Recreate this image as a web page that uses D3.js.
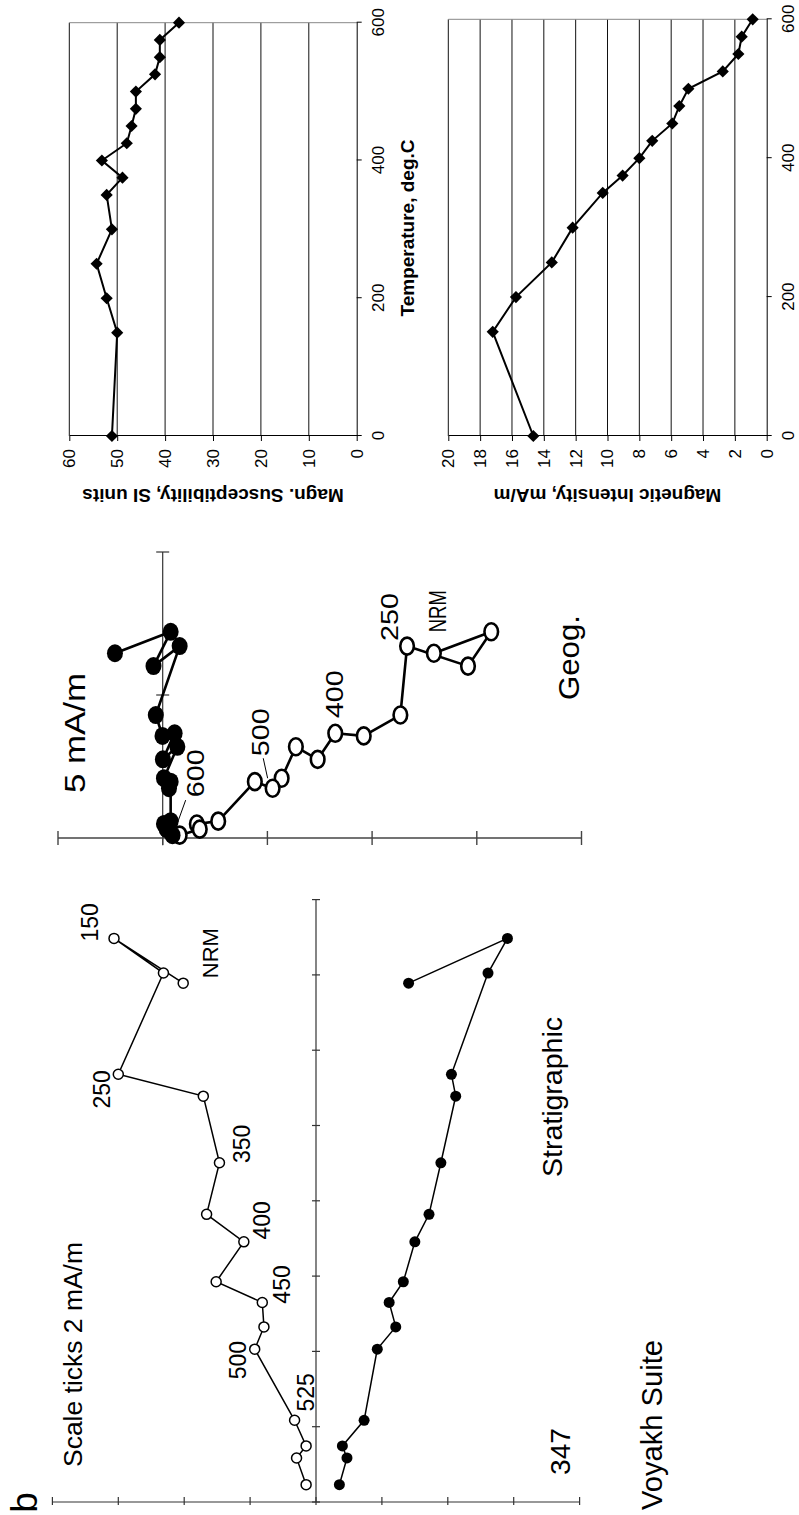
<!DOCTYPE html>
<html><head><meta charset="utf-8">
<script src="https://cdn.jsdelivr.net/npm/d3@7"></script>
<style>body{margin:0;background:#fff}svg{display:block}</style>
</head><body>
<svg id="c" width="799" height="1515"></svg>
<script>
// ---------------- DATA ----------------
const steps = ["NRM",150,200,250,300,350,375,400,425,450,475,500,525,550,575,600];
// Stratigraphic Zijderveld (mA/m)
const stratH    = [13.78,14.97,14.05,11.36,10.78,9.01,7.64,6.91,5.85,5.30,4.65,4.06,2.17,1.49,1.17,0.46];
const stratVert = [4.03,6.13,4.63,6.00,3.42,2.93,3.32,2.19,3.03,1.63,1.58,1.86,0.65,0.30,0.59,0.30];       // open
const stratHorz = [-2.81,-5.81,-5.22,-4.11,-4.24,-3.79,-3.43,-3.00,-2.65,-2.22,-2.42,-1.86,-1.46,-0.80,-0.94,-0.71]; // filled
// Geographic Zijderveld (mA/m)
const geogH    = [6.46,7.21,6.01,6.71,4.30,3.57,3.66,2.75,3.19,2.09,1.74,1.97,0.59,0.49,0.31,0.10];
const geogVert = [-12.95,-15.69,-14.58,-11.67,-11.35,-9.60,-8.24,-7.40,-6.36,-5.68,-5.25,-4.40,-2.65,-1.63,-1.77,-0.81]; // open
const geogHorz = [2.28,-0.38,0.44,-0.81,0.33,0.01,-0.57,-0.01,-0.70,-0.06,-0.30,-0.38,-0.38,-0.06,-0.19,-0.47];        // filled
// Thermal curves
const temps      = [0,150,200,250,300,350,375,400,425,450,475,500,525,550,575,600];
const suscept    = [51.1,50.0,52.2,54.3,51.1,52.2,48.9,53.2,48.0,47.0,46.1,46.1,42.1,41.1,41.1,37.1];
const intensity  = [14.66,17.21,15.75,13.5,12.19,10.30,9.05,8.00,7.19,5.93,5.49,4.92,2.76,1.78,1.57,0.88];
const tempTicks  = [0,200,400,600];
const susTicks   = [0,10,20,30,40,50,60];
const intTicks   = [0,2,4,6,8,10,12,14,16,18,20];
const stratTicksH = [0,2,4,6,8,10,12,14,16];
const stratTicksV = [-8,-6,-4,-2,0,2,4,6,8];
const geogTicksH = [5,10];
const geogTicksV = [-20,-15,-10,-5,0,5];

// ---------------- SETUP ----------------
const FONT = "'Liberation Sans', Arial, Helvetica, sans-serif";
const svg = d3.select("#c");
svg.append("rect").attr("width",799).attr("height",1515).attr("fill","#fff");
// whole figure is drawn in landscape and turned 90° counter-clockwise
const g = svg.append("g").attr("transform","translate(0,1515) rotate(-90)").attr("font-family",FONT);

function txt(parent, s, x, y, size, len, weight){
  const t = parent.append("text").attr("x", len ? x - len/2 : x).attr("y", y)
    .attr("font-size", size).attr("fill","#000").text(s);
  if (len) t.attr("textLength", len).attr("lengthAdjust","spacingAndGlyphs");
  else t.attr("text-anchor","middle");
  if (weight) t.attr("font-weight", weight);
  return t;
}
function seg(parent, x1,y1,x2,y2, w, c){
  parent.append("line").attr("x1",x1).attr("y1",y1).attr("x2",x2).attr("y2",y2)
    .attr("stroke", c||"#333").attr("stroke-width", w||1.2);
}

// ---------------- STRATIGRAPHIC PANEL ----------------
const sp = g.append("g");
const sx = d3.scaleLinear().domain([0,16]).range([13,615.4]);
const sy = d3.scaleLinear().domain([-8,8]).range([579.6,52.4]);
seg(sp, sx(0), sy(0), sx(16), sy(0));
stratTicksH.forEach(v => seg(sp, sx(v), sy(0)-4, sx(v), sy(0)+4));
seg(sp, sx(0), sy(8), sx(0), sy(-8));
stratTicksV.forEach(v => seg(sp, sx(0)-3, sy(v), sx(0)+5, sy(v)));
const sData = steps.map((t,i)=>({t, h:stratH[i], v:stratVert[i], w:stratHorz[i]}));
sp.append("path").datum(sData).attr("fill","none").attr("stroke","#000").attr("stroke-width",1.5)
  .attr("d", d3.line().x(d=>sx(d.h)).y(d=>sy(d.v)));
sp.append("path").datum(sData).attr("fill","none").attr("stroke","#000").attr("stroke-width",1.5)
  .attr("d", d3.line().x(d=>sx(d.h)).y(d=>sy(d.w)));
sp.selectAll(".so").data(sData).join("circle").attr("cx",d=>sx(d.h)).attr("cy",d=>sy(d.v)).attr("r",5)
  .attr("fill","#fff").attr("stroke","#000").attr("stroke-width",1.5);
sp.selectAll(".sf").data(sData).join("circle").attr("cx",d=>sx(d.h)).attr("cy",d=>sy(d.w)).attr("r",5.5)
  .attr("fill","#000");
const stratLabels = [{i:1,dx:16,dy:-16},{i:0,dx:30,dy:35},{i:3,dx:-15,dy:-8},{i:5,dx:19,dy:31},
  {i:7,dx:21.5,dy:26},{i:9,dx:18,dy:28},{i:11,dx:-11,dy:-9},{i:12,dx:28,dy:19}];
stratLabels.forEach(L => {
  const d = sData[L.i];
  txt(sp, String(d.t), sx(d.h)+L.dx, sy(d.v)+L.dy, d.t==="NRM"?22:23);
});
txt(sp, "Scale ticks 2 mA/m", 160.5, 82, 25, 225);
txt(sp, "Stratigraphic", 418, 562, 28, 160);
txt(sp, "347", 63.5, 570, 28, 47);
txt(sp, "Voyakh Suite", 90, 662, 30, 170);
txt(sp, "b", 12.5, 37, 37);

// ---------------- GEOGRAPHIC PANEL ----------------
const gp = g.append("g");
const gx = d3.scaleLinear().domain([0,10]).range([677,963]);
const gy = d3.scaleLinear().domain([-20,5]).range([581.5,58]);
seg(gp, gx(-0.25), gy(0), gx(10), gy(0));
geogTicksH.forEach(v => seg(gp, gx(v), gy(0)-6.5, gx(v), gy(0)+6.5));
seg(gp, gx(0), gy(5), gx(0), gy(-20), 1.4, "#444");
geogTicksV.forEach(v => seg(gp, gx(0)-7, gy(v), gx(0)+7, gy(v), 1.4, "#444"));
const gData = geogH.map((h,i)=>({h, v:geogVert[i], w:geogHorz[i]}));
gp.append("path").datum(gData).attr("fill","none").attr("stroke","#000").attr("stroke-width",2.6)
  .attr("stroke-linejoin","round").attr("d", d3.line().x(d=>gx(d.h)).y(d=>gy(d.v)));
gp.selectAll(".go").data(gData).join("ellipse").attr("cx",d=>gx(d.h)).attr("cy",d=>gy(d.v))
  .attr("rx",8.5).attr("ry",6.8).attr("fill","#fff").attr("stroke","#000").attr("stroke-width",2.6);
gp.append("path").datum(gData).attr("fill","none").attr("stroke","#000").attr("stroke-width",2.6)
  .attr("stroke-linejoin","round").attr("d", d3.line().x(d=>gx(d.h)).y(d=>gy(d.w)));
gp.selectAll(".gf").data(gData).join("ellipse").attr("cx",d=>gx(d.h)).attr("cy",d=>gy(d.w))
  .attr("rx",9).attr("ry",8).attr("fill","#000");
const geogLabels = [{s:"600",i:15,dx:62,dy:24,lead:[35,6,12,-2.3]},{s:"500",i:10,dx:56,dy:-4,lead:[30,-9.4,10,-5]},
  {s:"400",i:6,dx:39,dy:8},{s:"250",i:3,dx:29,dy:-9},{s:"NRM",i:0,dx:42,dy:12}];
geogLabels.forEach(L => {
  const d = gData[L.i], px = gx(d.h), py = gy(d.v);
  txt(gp, L.s, px+L.dx, py+L.dy, 24, L.s==="NRM"?42:48);
  if (L.lead) seg(gp, px+L.lead[0], py+L.lead[1], px+L.lead[2], py+L.lead[3], 1, "#000");
});
txt(gp, "5 mA/m", 782, 85, 30, 120);
txt(gp, "Geog.", 857.5, 579, 30, 85);

// ---------------- THERMAL CHARTS ----------------
function thermal(yValues, x0, x1, y0, y1, yMax, ticks){
  const cg = g.append("g");
  const tx = d3.scaleLinear().domain([0,600]).range([x0,x1]);
  const ty = d3.scaleLinear().domain([0,yMax]).range([y0,y1]);
  ticks.filter(v=>v>0).forEach(v => seg(cg, tx(0), ty(v), tx(600), ty(v), 1, "#111"));
  seg(cg, tx(600), ty(0), tx(600), ty(yMax), 1, "#888");
  const ya = cg.append("g").attr("transform",`translate(${tx(0)},0)`)
    .call(d3.axisLeft(ty).tickValues(ticks).tickSize(5).tickSizeOuter(0).tickPadding(8).tickFormat(d3.format("d")));
  const xa = cg.append("g").attr("transform",`translate(0,${ty(0)})`)
    .call(d3.axisBottom(tx).tickValues(tempTicks).tickSize(5).tickSizeOuter(0).tickPadding(10).tickFormat(d3.format("d")));
  [ya,xa].forEach(a => { a.selectAll("text").attr("font-size",17).attr("font-family",FONT).attr("fill","#000");
    a.selectAll("line,path").attr("stroke","#000"); });
  const pts = temps.map((t,i)=>({t, v:yValues[i]}));
  cg.append("path").datum(pts).attr("fill","none").attr("stroke","#000").attr("stroke-width",2)
    .attr("d", d3.line().x(d=>tx(d.t)).y(d=>ty(d.v)));
  cg.selectAll(".dm").data(pts).join("path")
    .attr("d", d3.symbol(d3.symbolSquare, 74))
    .attr("transform", d=>`translate(${tx(d.t)},${ty(d.v)}) rotate(45)`).attr("fill","#000");
  return cg;
}
thermal(suscept, 1079, 1492.3, 356.7, 69.3, 60, susTicks);
thermal(intensity, 1079, 1495.7, 766.7, 448.3, 20, intTicks);
txt(g, "Temperature, deg.C", 1287, 414, 19, null, "bold");
g.append("text").attr("transform","translate(1026,213) rotate(-90)").attr("text-anchor","middle")
  .attr("font-size",19).attr("font-weight","bold").text("Magn. Susceptibility, SI units");
g.append("text").attr("transform","translate(1026,607.5) rotate(-90)").attr("text-anchor","middle")
  .attr("font-size",19).attr("font-weight","bold").text("Magnetic Intensity, mA/m");
</script>
</body></html>
